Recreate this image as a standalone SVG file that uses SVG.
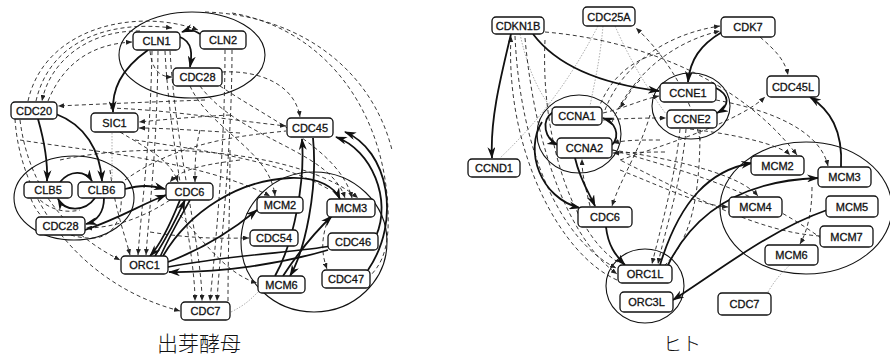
<svg xmlns="http://www.w3.org/2000/svg" width="890" height="356" viewBox="0 0 890 356">
<defs>
<marker id="big" viewBox="0 0 12 8" markerWidth="12" markerHeight="8" refX="11" refY="4" orient="auto" markerUnits="userSpaceOnUse"><path d="M0,0 L12,4 L0,8 L3.5,4 z" fill="#111"/></marker>
<marker id="sm" viewBox="0 0 6 5" markerWidth="6" markerHeight="5" refX="6" refY="2.5" orient="auto" markerUnits="userSpaceOnUse"><path d="M0,0 L6,2.5 L0,5 z" fill="#222"/></marker>
</defs>
<style>
.b{fill:none;stroke:#111;stroke-width:1.8;marker-end:url(#big)}
.bn{fill:none;stroke:#111;stroke-width:1.6}
.d{fill:none;stroke:#222;stroke-width:0.9;stroke-dasharray:4 3;marker-end:url(#sm)}
.dn{fill:none;stroke:#222;stroke-width:0.9;stroke-dasharray:4 3}
.g{fill:none;stroke:#999;stroke-width:0.8;stroke-dasharray:1.5 1.5}
.ell{fill:none;stroke:#111;stroke-width:1.1}
.n rect{fill:#fff;stroke:#111;stroke-width:1.3}
.n text{font-family:"Liberation Sans",Arial,sans-serif;font-size:11px;text-anchor:middle;fill:#111;stroke:#111;stroke-width:0.3}
.cap{font-family:"Noto Sans CJK JP","Noto Sans CJK SC",sans-serif;fill:#111;text-anchor:middle;font-weight:300}
</style>
<rect width="890" height="356" fill="#fff"/>
<g id="ellipses">
<ellipse class="ell" cx="192" cy="55" rx="73" ry="43"/>
<ellipse class="ell" cx="74" cy="198" rx="60" ry="42"/>
<ellipse class="ell" cx="314" cy="242" rx="73" ry="70"/>
<ellipse class="ell" cx="579" cy="134" rx="42" ry="39"/>
<ellipse class="ell" cx="691" cy="106" rx="39" ry="33"/>
<ellipse class="ell" cx="645" cy="286" rx="39" ry="37"/>
<ellipse class="ell" cx="806" cy="208" rx="86" ry="66"/>
</g>
<g id="connectors">
<path class="d" d="M15,119 C20,200 80,285 180,311"/>
<path class="d" d="M36,101 C50,40 110,20 172,28"/>
<path class="d" d="M28,101 C45,25 140,8 198,30"/>
<path class="d" d="M140,31 C90,30 50,60 42,101"/>
<path class="d" d="M48,101 C65,60 95,44 132,42"/>
<path class="dn" d="M232,13 C330,30 392,120 388,230 C386,255 380,265 371,275"/>
<path class="dn" d="M205,12 C300,15 372,70 392,150"/>
<path class="d" d="M222,72 C260,70 295,85 300,117"/>
<path class="d" d="M110,108 C170,110 230,120 286,126"/>
<path class="d" d="M205,100 C150,102 100,104 58,106"/>
<path class="d" d="M230,115 C190,117 160,120 139,122"/>
<path class="d" d="M240,133 C190,130 160,128 139,128"/>
<path class="d" d="M150,51 C152,70 160,77 172,77"/>
<path class="d" d="M152,51 C150,150 142,200 138,255"/>
<path class="d" d="M158,51 C157,150 150,200 146,255"/>
<path class="d" d="M165,51 C170,150 195,250 195,301"/>
<path class="d" d="M170,51 C176,150 202,250 202,301"/>
<path class="d" d="M225,50 C225,150 215,250 210,301"/>
<path class="d" d="M232,50 C232,150 220,250 217,301"/>
<path class="d" d="M190,86 C210,130 270,150 275,196"/>
<path class="d" d="M200,86 C240,140 330,150 345,198"/>
<path class="d" d="M220,86 C270,120 340,150 352,198"/>
<path class="d" d="M60,160 C150,140 300,150 358,198"/>
<path class="d" d="M120,132 C150,150 170,160 178,182"/>
<path class="d" d="M200,130 C195,150 195,165 195,182"/>
<path class="d" d="M150,232 C200,240 230,238 249,238"/>
<path class="d" d="M180,215 C210,250 230,275 257,283"/>
<path class="d" d="M329,217 C320,240 322,255 327,269"/>
<path class="d" d="M110,170 C115,210 125,235 130,255"/>
<path class="d" d="M170,200 C140,220 110,228 86,228"/>
<path class="dn" d="M125,180 C180,140 250,135 286,131"/>
<path class="d" d="M20,140 C80,150 200,160 270,196"/>
<path class="d" d="M20,120 C30,200 80,240 120,260"/>
<path class="dn" d="M28,185 C30,215 60,240 95,238 C115,236 125,215 120,185"/>
<path class="dn" d="M30,182 C35,205 60,215 80,210"/>
<path class="d" d="M240,160 C200,165 180,170 170,182"/>
<path class="dn" d="M135,140 C200,150 280,160 330,190"/>
<path class="dn" d="M230,150 C230,200 228,250 228,301"/>
<path class="g" d="M112,133 L112,180"/>
<path class="g" d="M231,312 C245,305 250,300 258,292"/>
<path class="b" d="M148,50 C120,70 112,90 113,112"/>
<path class="b" d="M180,37 C193,42 192,55 190,67"/>
<path class="b" d="M200,34 Q192,28 182,32"/>
<path class="b" d="M38,119 C44,140 48,160 47,181"/>
<path class="b" d="M56,114 C85,125 100,150 102,181"/>
<path class="b" d="M60,182 C70,170 85,170 92,181"/>
<path class="b" d="M95,198 C85,212 65,212 58,199"/>
<path class="b" d="M104,198 C104,212 97,221 86,224"/>
<path class="b" d="M125,189 C140,185 150,185 165,189"/>
<path class="b" d="M85,230 C120,218 140,205 166,195"/>
<path class="b" d="M180,200 C170,225 160,245 150,256"/>
<path class="b" d="M155,256 C165,240 175,222 185,200"/>
<path class="bn" d="M160,257 C170,235 180,218 190,200"/>
<path class="b" d="M168,262 C200,250 230,232 257,210"/>
<path class="b" d="M163,256 C190,210 240,180 290,178 C320,177 335,188 340,199"/>
<path class="bn" d="M168,267 C230,255 300,252 330,246"/>
<path class="b" d="M328,250 C280,264 220,273 169,272"/>
<path class="b" d="M283,276 C300,250 315,232 332,216"/>
<path class="b" d="M275,276 C295,240 305,180 302,139"/>
<path class="b" d="M313,138 C318,190 305,250 290,276"/>
<path class="b" d="M376,236 C392,200 372,150 336,137"/>
<path class="b" d="M368,270 C402,220 388,150 345,132"/>
<path class="g" d="M598,26 C570,80 540,120 500,158"/>
<path class="g" d="M603,26 C600,60 595,80 590,106"/>
<path class="g" d="M615,26 C630,60 645,85 666,114"/>
<path class="g" d="M520,34 C530,80 545,100 553,110"/>
<path class="g" d="M768,292 C775,280 782,272 790,265"/>
<path class="d" d="M545,32 C640,40 740,80 797,155"/>
<path class="d" d="M605,110 C620,70 660,35 720,26"/>
<path class="d" d="M612,122 C632,75 672,42 720,31"/>
<path class="d" d="M760,37 C775,50 785,60 788,75"/>
<path class="d" d="M620,160 C680,140 740,120 765,97"/>
<path class="d" d="M716,100 C770,110 820,130 828,166"/>
<path class="d" d="M690,129 C740,135 780,145 790,155"/>
<path class="d" d="M612,150 C680,160 740,175 758,196"/>
<path class="d" d="M620,170 C670,190 700,205 728,207"/>
<path class="d" d="M812,187 C812,210 808,230 800,244"/>
<path class="dn" d="M820,236 C760,232 700,200 620,160"/>
<path class="d" d="M515,36 C520,150 560,240 616,268"/>
<path class="d" d="M525,38 C535,150 570,240 617,274"/>
<path class="d" d="M617,280 C560,255 505,150 511,36"/>
<path class="dn" d="M545,40 C540,150 580,240 618,262"/>
<path class="d" d="M680,129 C675,180 660,230 652,264"/>
<path class="d" d="M686,129 C682,180 665,230 658,264"/>
<path class="d" d="M650,115 C640,150 620,180 612,206"/>
<path class="d" d="M590,206 C585,185 582,175 582,159"/>
<path class="d" d="M603,113 C625,108 640,100 659,96"/>
<path class="d" d="M603,120 C630,118 650,118 666,118"/>
<path class="dn" d="M613,150 C680,170 760,190 830,245"/>
<path class="d" d="M700,140 C690,90 660,50 636,28"/>
<path class="d" d="M660,140 C640,140 625,140 613,143"/>
<path class="d" d="M665,152 C640,152 625,153 613,153"/>
<path class="d" d="M640,80 C630,90 625,100 620,108"/>
<path class="dn" d="M660,53 C630,60 610,80 600,105"/>
<path class="dn" d="M700,130 C700,200 690,240 665,265"/>
<path class="b" d="M511,34 C500,80 490,120 492,158"/>
<path class="b" d="M533,34 C560,70 610,85 659,91"/>
<path class="b" d="M722,32 C700,45 690,60 688,82"/>
<path class="b" d="M716,88 C730,95 730,106 717,113"/>
<path class="b" d="M612,145 C621,135 615,122 603,118"/>
<path class="b" d="M553,112 C540,121 545,139 558,145"/>
<path class="b" d="M575,158 C580,180 590,195 595,206"/>
<path class="b" d="M542,122 C524,150 540,198 580,208"/>
<path class="b" d="M606,227 C608,245 615,255 625,265"/>
<path class="b" d="M660,265 C680,200 710,170 752,163"/>
<path class="b" d="M668,265 C700,200 760,180 818,178"/>
<path class="b" d="M841,167 C843,130 830,110 810,97"/>
<path class="b" d="M827,210 C770,230 720,270 673,300"/>
</g>
<g id="n-CLN1" class="n"><rect x="133" y="32" width="47" height="18" rx="4"/><text x="156.5" y="45">CLN1</text></g>
<g id="n-CLN2" class="n"><rect x="200" y="31" width="46" height="18" rx="4"/><text x="223" y="44">CLN2</text></g>
<g id="n-CDC28a" class="n"><rect x="173" y="68" width="49" height="18" rx="4"/><text x="197.5" y="81">CDC28</text></g>
<g id="n-CDC20" class="n"><rect x="11" y="102" width="46" height="17" rx="4"/><text x="34" y="114.5">CDC20</text></g>
<g id="n-SIC1" class="n"><rect x="91" y="113" width="47" height="19" rx="4"/><text x="114.5" y="126.5">SIC1</text></g>
<g id="n-CDC45" class="n"><rect x="287" y="118" width="46" height="19" rx="4"/><text x="310" y="131.5">CDC45</text></g>
<g id="n-CLB5" class="n"><rect x="24" y="182" width="48" height="16" rx="4"/><text x="48" y="194">CLB5</text></g>
<g id="n-CLB6" class="n"><rect x="78" y="182" width="47" height="16" rx="4"/><text x="101.5" y="194">CLB6</text></g>
<g id="n-CDC6" class="n"><rect x="166" y="183" width="47" height="17" rx="4"/><text x="189.5" y="195.5">CDC6</text></g>
<g id="n-CDC28b" class="n"><rect x="36" y="217" width="49" height="18" rx="4"/><text x="60.5" y="230">CDC28</text></g>
<g id="n-ORC1" class="n"><rect x="121" y="256" width="47" height="18" rx="4"/><text x="144.5" y="269">ORC1</text></g>
<g id="n-CDC7a" class="n"><rect x="181" y="302" width="49" height="18" rx="4"/><text x="205.5" y="315">CDC7</text></g>
<g id="n-MCM2a" class="n"><rect x="257" y="197" width="46" height="16" rx="4"/><text x="280" y="209">MCM2</text></g>
<g id="n-MCM3a" class="n"><rect x="327" y="199" width="48" height="18" rx="4"/><text x="351" y="212">MCM3</text></g>
<g id="n-CDC54" class="n"><rect x="250" y="230" width="48" height="16" rx="4"/><text x="274" y="242">CDC54</text></g>
<g id="n-CDC46" class="n"><rect x="328" y="233" width="50" height="17" rx="4"/><text x="353" y="245.5">CDC46</text></g>
<g id="n-MCM6a" class="n"><rect x="258" y="276" width="47" height="17" rx="4"/><text x="281.5" y="288.5">MCM6</text></g>
<g id="n-CDC47" class="n"><rect x="322" y="270" width="48" height="18" rx="4"/><text x="346" y="283">CDC47</text></g>
<g id="n-CDKN1B" class="n"><rect x="492" y="17" width="52" height="17" rx="4"/><text x="518" y="29.5">CDKN1B</text></g>
<g id="n-CDC25A" class="n"><rect x="583" y="7" width="52" height="19" rx="4"/><text x="609" y="20.5">CDC25A</text></g>
<g id="n-CCND1" class="n"><rect x="468" y="159" width="52" height="18" rx="4"/><text x="494" y="172">CCND1</text></g>
<g id="n-CCNA1" class="n"><rect x="552" y="107" width="50" height="18" rx="4"/><text x="577" y="120">CCNA1</text></g>
<g id="n-CCNA2" class="n"><rect x="557" y="138" width="55" height="20" rx="4"/><text x="584.5" y="152">CCNA2</text></g>
<g id="n-CDK7" class="n"><rect x="721" y="17" width="54" height="20" rx="4"/><text x="748" y="31">CDK7</text></g>
<g id="n-CDC45L" class="n"><rect x="767" y="76" width="52" height="21" rx="4"/><text x="793" y="90.5">CDC45L</text></g>
<g id="n-CCNE1" class="n"><rect x="660" y="83" width="56" height="19" rx="4"/><text x="688" y="96.5">CCNE1</text></g>
<g id="n-CCNE2" class="n"><rect x="667" y="110" width="50" height="18" rx="4"/><text x="692" y="123">CCNE2</text></g>
<g id="n-MCM2b" class="n"><rect x="751" y="156" width="53" height="19" rx="4"/><text x="777.5" y="169.5">MCM2</text></g>
<g id="n-MCM3b" class="n"><rect x="818" y="167" width="53" height="20" rx="4"/><text x="844.5" y="181">MCM3</text></g>
<g id="n-CDC6b" class="n"><rect x="578" y="207" width="54" height="20" rx="4"/><text x="605" y="221">CDC6</text></g>
<g id="n-ORC1L" class="n"><rect x="618" y="265" width="54" height="18" rx="4"/><text x="645" y="278">ORC1L</text></g>
<g id="n-ORC3L" class="n"><rect x="620" y="292" width="53" height="20" rx="4"/><text x="646.5" y="306">ORC3L</text></g>
<g id="n-MCM4" class="n"><rect x="729" y="197" width="53" height="20" rx="4"/><text x="755.5" y="211">MCM4</text></g>
<g id="n-MCM5" class="n"><rect x="826" y="196" width="52" height="21" rx="4"/><text x="852" y="210.5">MCM5</text></g>
<g id="n-MCM7" class="n"><rect x="820" y="226" width="53" height="21" rx="4"/><text x="846.5" y="240.5">MCM7</text></g>
<g id="n-MCM6b" class="n"><rect x="765" y="245" width="53" height="20" rx="4"/><text x="791.5" y="259">MCM6</text></g>
<g id="n-CDC7b" class="n"><rect x="718" y="293" width="53" height="22" rx="4"/><text x="744.5" y="308">CDC7</text></g>
<g id="captions">
<text class="cap" x="199" y="351" font-size="21">出芽酵母</text>
<text class="cap" x="682" y="351" font-size="19">ヒト</text>
</g>
</svg>
